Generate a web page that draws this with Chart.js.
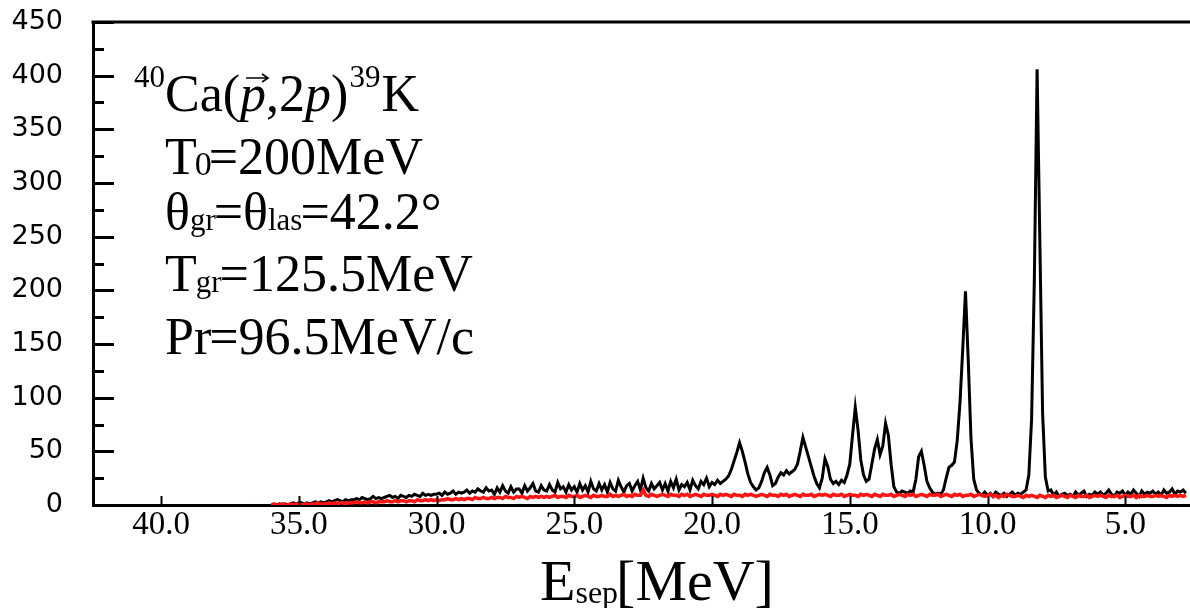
<!DOCTYPE html>
<html>
<head>
<meta charset="utf-8">
<script src="https://cdn.jsdelivr.net/npm/chart.js@4"></script>
<style>
  html, body { margin: 0; padding: 0; background: #fff; }
  #chart { display: block; }
</style>
</head>
<body>
<canvas id="chart" width="1190" height="608"></canvas>
<script>
// spectrum binned in 0.1 MeV steps, first bin at 36.0 MeV going down
const E_FIRST = 36.0;
const BIN = 0.1;

const xTickValues = [40, 35, 30, 25, 20, 15, 10, 5];
const yTickValues = [0, 50, 100, 150, 200, 250, 300, 350, 400, 450];

// black: coincidence spectrum
const counts = [
  0, 0, 0, 1, 0, 1, 0, 1, 2, 1,        // 36.0 .. 35.1
  2, 2, 1, 2, 1, 2, 3, 2, 3, 2,        // 35.0 .. 34.1
  3, 4, 3, 4, 5, 4, 3, 5, 4, 5,        // 34.0 .. 33.1
  5, 6, 5, 7, 6, 5, 6, 8, 6, 7,        // 33.0 .. 32.1
  6, 7, 8, 9, 7, 8, 6, 9, 8, 7,        // 32.0 .. 31.1
  9, 8, 10, 9, 8, 11, 9, 10, 9, 10,    // 31.0 .. 30.1
  10, 11, 9, 12, 10, 11, 13, 10, 12, 11,
  12, 14, 11, 13, 12, 15, 13, 12, 16, 13,
  14, 10, 16, 12, 18, 13, 11, 17, 12, 15,   // 28.0 .. 27.1
  15, 11, 18, 13, 16, 20, 13, 12, 18, 14,
  13, 19, 14, 12, 21, 15, 17, 12, 19, 14,
  17, 12, 20, 14, 18, 12, 22, 15, 13, 20,
  14, 19, 12, 21, 15, 13, 23, 17, 12, 18,
  20, 13, 18, 22, 14, 25, 16, 13, 20, 15,
  18, 21, 14, 20, 13, 22, 16, 24, 14, 19,
  17, 21, 14, 23, 18, 15, 22, 19, 25, 17,   // 21.0 .. 20.1
  21, 19, 23, 20, 22, 24, 27, 33, 41, 49,   // 20.0 .. 19.1
  58, 50, 40, 29, 21, 17, 14, 16, 22, 30,   // 19.0 .. 18.1
  35, 28, 18, 20, 26, 30, 28, 32, 29, 31,   // 18.0 .. 17.1
  33, 38, 50, 63, 54, 45, 36, 27, 20, 16,   // 17.0 .. 16.1
  25, 43, 36, 24, 20, 22, 19, 23, 21, 28,   // 16.0 .. 15.1
  38, 65, 91, 70, 42, 28, 22, 24, 38, 52,   // 15.0 .. 14.1
  61, 47, 55, 76, 65, 38, 17, 12, 11, 13,   // 14.0 .. 13.1
  12, 11, 13, 12, 24, 45, 50, 37, 22, 16,   // 13.0 .. 12.1
  12, 10, 11, 10, 14, 25, 35, 37, 40, 60,   // 12.0 .. 11.1
  95, 145, 199, 135, 62, 24, 14, 11, 9, 12, // 11.0 .. 10.1
  9, 11, 8, 12, 10, 9, 11, 8, 10, 12,       // 10.0 .. 9.1
  9, 11, 10, 12, 14, 28, 80, 210, 406, 245, // 9.0 .. 8.1
  85, 26, 13, 14, 9, 12, 8, 10, 11, 9,      // 8.0 .. 7.1
  10, 8, 12, 9, 11, 13, 8, 10, 9, 12,
  10, 12, 9, 11, 14, 10, 8, 12, 11, 13,
  9, 12, 10, 14, 11, 8, 13, 10, 12, 11,
  13, 10, 12, 9, 14, 11, 12, 15, 10, 13,
  12, 14, 11                                // 3.0 .. 2.8
];

// red: accidental background
const background = [
  0, 1, 0, 0, 1, 0, 0, 1, 0, 1,
  1, 0, 1, 1, 0, 1, 1, 2, 1, 1,
  1, 2, 1, 2, 1, 2, 2, 1, 2, 2,
  2, 3, 2, 2, 3, 2, 3, 3, 2, 3,
  3, 3, 4, 3, 3, 4, 3, 4, 4, 3,
  4, 4, 3, 5, 4, 4, 5, 4, 5, 4,
  5, 4, 5, 5, 6, 5, 5, 6, 5, 6,
  5, 6, 6, 5, 7, 6, 6, 7, 6, 6,
  7, 6, 7, 7, 6, 8, 7, 7, 6, 8,
  7, 8, 7, 6, 8, 7, 8, 7, 8, 7,
  8, 7, 8, 9, 7, 8, 8, 7, 9, 8,
  8, 9, 7, 8, 9, 8, 7, 9, 8, 8,
  9, 8, 8, 10, 8, 9, 8, 9, 10, 8,
  9, 8, 10, 9, 9, 14, 9, 8, 10, 9,
  8, 9, 10, 9, 8, 10, 9, 9, 8, 10,
  9, 10, 8, 9, 10, 9, 8, 10, 9, 9,
  10, 9, 8, 10, 9, 10, 9, 8, 10, 9,
  9, 8, 10, 9, 10, 9, 8, 9, 10, 9,
  8, 10, 9, 9, 8, 10, 9, 10, 8, 9,
  10, 9, 8, 10, 9, 9, 10, 8, 9, 10,
  9, 10, 9, 8, 10, 9, 9, 10, 8, 9,
  10, 9, 9, 8, 10, 9, 10, 9, 8, 10,
  9, 8, 10, 9, 9, 10, 8, 9, 10, 9,
  8, 10, 9, 10, 8, 9, 10, 9, 8, 10,
  9, 9, 10, 8, 9, 10, 9, 8, 10, 9,
  10, 8, 9, 9, 10, 8, 9, 10, 9, 8,
  9, 10, 8, 9, 7, 9, 8, 10, 9, 8,
  8, 9, 8, 7, 9, 8, 9, 8, 7, 9,
  8, 7, 9, 8, 9, 7, 8, 9, 8, 7,
  9, 8, 7, 9, 8, 8, 9, 7, 8, 9,
  8, 9, 8, 7, 9, 8, 8, 9, 7, 8,
  9, 8, 8, 9, 7, 9, 8, 8, 9, 8,
  8, 9, 8, 9, 8, 7, 9, 8, 9, 8,
  9, 8, 9
];

const toPoints = arr => arr.map((c, i) => ({ x: +(E_FIRST - i * BIN).toFixed(2), y: c }));

const SERIF = '"Liberation Serif", "Times New Roman", serif';

// draws a run of text pieces: [text, size, dy, italic, kern]
function drawRuns(ctx, x, y, runs) {
  runs.forEach(r => {
    const [t, size, dy, italic, kern] = r;
    ctx.font = (italic ? 'italic ' : '') + size + 'px ' + SERIF;
    x += kern || 0;
    ctx.fillText(t, x, y + (dy || 0));
    r.x0 = x;
    x += ctx.measureText(t).width;
    r.x1 = x;
  });
  return x;
}

const frame = {
  id: 'frame',
  afterDraw(chart) {
    const { ctx, chartArea: a, scales: { x, y } } = chart;
    ctx.save();
    ctx.strokeStyle = '#000';
    ctx.lineWidth = 3;
    ctx.beginPath();
    ctx.moveTo(a.left - 1.5, a.top);
    ctx.lineTo(a.right, a.top);
    ctx.stroke();

    // inward ticks
    ctx.lineWidth = 3;
    ctx.beginPath();
    for (let v = 0; v <= 450; v += 25) {
      const py = Math.round(y.getPixelForValue(v)) + 0.5;
      const len = v % 50 === 0 ? 21 : 11;
      ctx.moveTo(a.left, py);
      ctx.lineTo(a.left + len, py);
    }
    ctx.stroke();
    ctx.lineWidth = 2;
    ctx.beginPath();
    xTickValues.forEach(v => {
      const px = Math.round(x.getPixelForValue(v)) + 0.5;
      ctx.moveTo(px, a.bottom);
      ctx.lineTo(px, a.bottom - 9);
    });
    ctx.stroke();

    // annotation block
    ctx.fillStyle = '#000';
    ctx.textBaseline = 'alphabetic';
    const L = 165, F = 52, S = 31;
    drawRuns(ctx, 134, 111, [['40', S, -24]]);
    const l1 = [['Ca(', F, 0, false], ['p', F, 0, true], [',2', F, 0, false], ['p', F, 0, true], [')', F, 0, false],
                ['39', S, -24, false, 1], ['K', F, 0, false, 1]];
    drawRuns(ctx, L, 111, l1);
    // vector arrow over first p
    const px0 = l1[1].x0 + 6, px1 = l1[1].x1 + 2, ay = 111 - 33;
    ctx.lineWidth = 1.6;
    ctx.beginPath();
    ctx.moveTo(px0, ay); ctx.lineTo(px1, ay);
    ctx.moveTo(px1 - 6, ay - 4); ctx.lineTo(px1, ay); ctx.lineTo(px1 - 6, ay + 4);
    ctx.stroke();

    drawRuns(ctx, L, 174, [['T', F], ['0', 34, 1, false, -2], ['=', F, 0, false, -3], ['200MeV', F]]);
    drawRuns(ctx, L, 229, [['θ', F], ['gr', S, 1], ['=', F, 0, false, -2], ['θ', F], ['las', S, 1], ['=', F, 0, false, -2], ['42.2°', F]]);
    drawRuns(ctx, L, 291, [['T', F], ['gr', S, 1, false, -1], ['=', F, 0, false, -2], ['125.5MeV', F]]);
    drawRuns(ctx, L, 354, [['Pr', F], ['=', F, 0, false, -2], ['96.5MeV/c', F]]);

    // x axis title
    drawRuns(ctx, 540, 600, [['E', 58], ['sep', 32, 3], ['[MeV]', 58, 0, false, -2]]);
    ctx.restore();
  }
};

new Chart(document.getElementById('chart'), {
  type: 'line',
  data: {
    datasets: [
      {
        label: 'background',
        data: toPoints(background),
        borderColor: '#ff1414',
        borderWidth: 3.5,
        pointRadius: 0
      },
      {
        label: 'counts',
        data: toPoints(counts),
        borderColor: '#000',
        borderWidth: 3,
        pointRadius: 0
      }
    ]
  },
  options: {
    responsive: false,
    animation: false,
    layout: { padding: { top: 22, right: 0, left: 0, bottom: 0 } },
    plugins: { legend: { display: false }, tooltip: { enabled: false } },
    scales: {
      x: {
        type: 'linear',
        reverse: true,
        min: 2.65,
        max: 42.47,
        grid: { display: false, drawTicks: false },
        border: { display: true, color: '#000', width: 3 },
        afterBuildTicks: s => { s.ticks = xTickValues.map(v => ({ value: v })); },
        afterFit: s => { s.height = 103; s.paddingLeft = 0; s.paddingRight = 0; },
        ticks: {
          autoSkip: false,
          maxRotation: 0,
          padding: 1,
          color: '#000',
          font: { family: SERIF, size: 33 },
          callback: v => v.toFixed(1)
        }
      },
      y: {
        min: 0,
        max: 450,
        grid: { display: false, drawTicks: false },
        border: { display: true, color: '#000', width: 3 },
        afterBuildTicks: s => { s.ticks = yTickValues.map(v => ({ value: v })); },
        afterFit: s => { s.width = 93; s.paddingTop = 0; s.paddingBottom = 0; },
        ticks: {
          autoSkip: false,
          padding: 30,
          color: '#000',
          font: { family: '"DejaVu Sans", sans-serif', size: 27 }
        }
      }
    }
  },
  plugins: [frame]
});
</script>
</body>
</html>
